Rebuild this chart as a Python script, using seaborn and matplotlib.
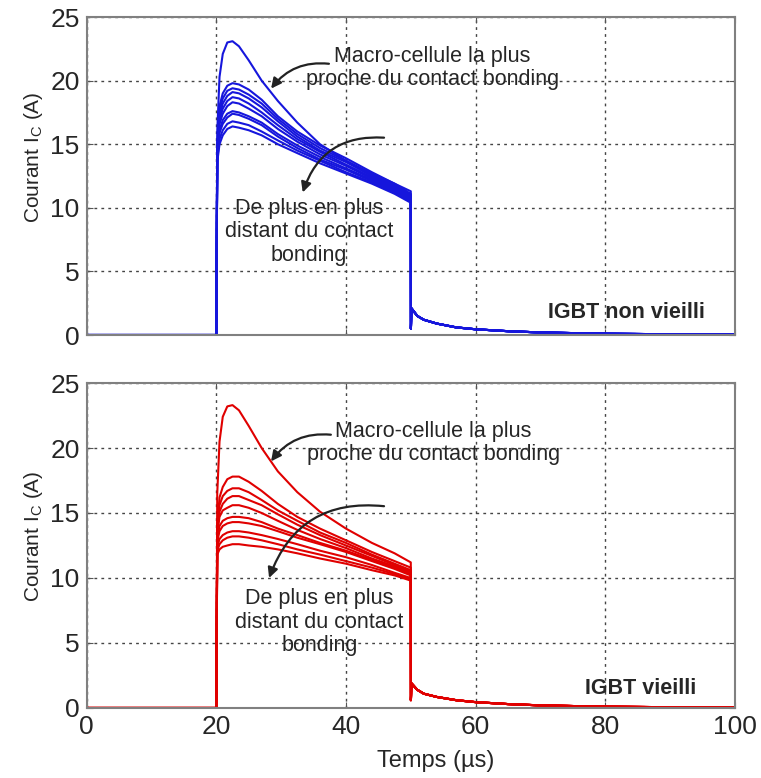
import numpy as np
import pandas as pd
import seaborn as sns
import matplotlib.pyplot as plt

# time samples (µs) of the pulse
t_pulse = [20.15, 20.5, 21.0, 21.7, 22.5, 23.5, 25, 27, 29.5, 32.5, 36, 40, 44, 47.5, 50.0]
# turn-off tail, shared by every macro-cell
t_tail = [50.02, 50.1, 51, 52, 54, 57, 60, 65, 70, 80, 90, 100]
tail_new = [0.5, 2.1, 1.5, 1.2, 0.9, 0.6, 0.45, 0.3, 0.2, 0.1, 0.06, 0.03]
tail_old = [0.6, 1.9, 1.4, 1.1, 0.85, 0.6, 0.45, 0.3, 0.2, 0.1, 0.06, 0.03]

# IGBT non vieilli (blue), first curve = cell closest to the bonding contact
new_cells = [
    [16.0, 20.3, 22.1, 23.0, 23.1, 22.7, 21.6, 20.0, 18.4, 16.7, 15.0, 13.7, 12.7, 11.9, 11.3],
    [14.8, 18.0, 19.0, 19.6, 19.8, 19.7, 19.3, 18.5, 17.2, 16.0, 14.9, 13.9, 12.8, 11.9, 11.1],
    [14.6, 17.6, 18.6, 19.2, 19.4, 19.3, 18.9, 18.2, 17.0, 15.8, 14.7, 13.7, 12.6, 11.8, 11.0],
    [14.5, 17.2, 18.2, 18.8, 19.1, 19.0, 18.6, 17.9, 16.8, 15.6, 14.5, 13.6, 12.5, 11.7, 10.9],
    [14.4, 16.9, 17.8, 18.4, 18.7, 18.6, 18.2, 17.5, 16.5, 15.4, 14.4, 13.4, 12.4, 11.6, 10.8],
    [14.3, 16.6, 17.4, 18.0, 18.3, 18.2, 17.8, 17.2, 16.2, 15.2, 14.2, 13.3, 12.3, 11.5, 10.8],
    [14.1, 16.1, 16.9, 17.4, 17.6, 17.5, 17.2, 16.7, 15.8, 14.9, 14.0, 13.1, 12.2, 11.4, 10.7],
    [14.0, 15.9, 16.6, 17.1, 17.4, 17.3, 17.0, 16.5, 15.6, 14.7, 13.8, 13.0, 12.1, 11.3, 10.6],
    [13.8, 15.4, 16.1, 16.6, 16.8, 16.7, 16.5, 16.0, 15.3, 14.5, 13.7, 12.8, 12.0, 11.2, 10.5],
    [13.6, 15.0, 15.7, 16.2, 16.4, 16.3, 16.1, 15.7, 15.0, 14.3, 13.5, 12.7, 11.9, 11.1, 10.4],
]

# IGBT vieilli (red)
old_cells = [
    [16.5, 20.5, 22.4, 23.2, 23.3, 22.9, 21.7, 20.0, 18.2, 16.6, 15.1, 13.8, 12.7, 11.9, 11.2],
    [14.0, 16.2, 17.0, 17.6, 17.8, 17.8, 17.4, 16.7, 15.7, 14.7, 13.8, 12.9, 12.0, 11.3, 10.8],
    [13.8, 15.6, 16.3, 16.7, 16.9, 16.9, 16.6, 16.0, 15.2, 14.4, 13.5, 12.7, 11.8, 11.1, 10.6],
    [13.6, 15.1, 15.7, 16.1, 16.3, 16.3, 16.0, 15.6, 14.9, 14.1, 13.3, 12.5, 11.7, 11.0, 10.5],
    [13.4, 14.7, 15.2, 15.4, 15.6, 15.6, 15.4, 15.0, 14.4, 13.7, 13.0, 12.3, 11.5, 10.9, 10.4],
    [13.0, 14.0, 14.4, 14.6, 14.7, 14.7, 14.6, 14.3, 13.8, 13.3, 12.7, 12.1, 11.4, 10.8, 10.3],
    [12.8, 13.6, 14.0, 14.2, 14.3, 14.3, 14.2, 14.0, 13.6, 13.1, 12.6, 12.0, 11.3, 10.7, 10.2],
    [12.4, 13.0, 13.3, 13.5, 13.6, 13.6, 13.5, 13.3, 13.0, 12.6, 12.1, 11.6, 11.0, 10.4, 10.0],
    [12.1, 12.6, 12.9, 13.1, 13.2, 13.2, 13.1, 12.9, 12.6, 12.2, 11.8, 11.3, 10.8, 10.3, 9.9],
    [11.8, 12.2, 12.4, 12.5, 12.6, 12.6, 12.5, 12.4, 12.2, 11.9, 11.5, 11.1, 10.6, 10.2, 9.8],
]


def build(cells, tail):
    rows = []
    for k, vals in enumerate(cells):
        tt = [0, 20.0] + t_pulse + t_tail
        yy = [0, 0] + vals + tail
        for t, y in zip(tt, yy):
            rows.append({"cell": k, "t": t, "I": y})
    return pd.DataFrame(rows)


sns.set_style("white")
plt.rcParams['font.family'] = ['Liberation Sans', 'DejaVu Sans']

fig = plt.figure(figsize=(7.61, 7.78), dpi=100)
ax1 = fig.add_axes([0.1138, 0.5694, 0.852, 0.4087])
ax2 = fig.add_axes([0.1138, 0.0900, 0.852, 0.4177])

panels = [
    (ax1, build(new_cells, tail_new), "#1616dc", "IGBT non vieilli",
     (53.3, 21.0), (37.8, 21.3), (28.2, 19.2), (34.3, 8.1), (46.3, 15.5), (33.2, 11.0), (83.2, 1.8), 0.56),
    (ax2, build(old_cells, tail_old), "#e00000", "IGBT vieilli",
     (53.5, 20.4), (38.1, 21.0), (28.2, 18.8), (35.9, 6.6), (46.3, 15.5), (28.0, 9.8), (85.4, 1.5), 0.53),
]

for ax, df, col, tag, m_txt, m_a, m_b, d_txt, d_a, d_b, tag_xy, ylab_y in panels:
    sns.lineplot(data=df, x="t", y="I", hue="cell", units="cell", estimator=None,
                 sort=False, palette=[col] * 10, legend=False, lw=1.5, ax=ax)
    ax.set_xlim(0, 100)
    ax.set_ylim(0, 25)
    ax.set_xticks([0, 20, 40, 60, 80, 100])
    ax.set_yticks([0, 5, 10, 15, 20, 25])
    ax.grid(True, ls=(0, (2, 3)), color="#444444", lw=1.0)
    ax.tick_params(direction="in", length=4, color="#555555", labelsize=19,
                   top=True, right=True, bottom=True, left=True, pad=5)
    for s in ax.spines.values():
        s.set_color("#808080")
        s.set_linewidth(1.5)
    ax.set_ylabel("Courant I$_\\mathregular{C}$ (A)", fontsize=15)
    ax.yaxis.set_label_coords(-0.064, ylab_y)
    ax.set_xlabel("")

    ax.text(m_txt[0], m_txt[1], "Macro-cellule la plus\nproche du contact bonding",
            ha="center", va="center", fontsize=15.5, linespacing=1.15)
    ax.annotate("", xy=m_b, xytext=m_a,
                arrowprops=dict(arrowstyle="-|>", color="#222222", lw=1.6,
                                connectionstyle="arc3,rad=0.3", mutation_scale=15))
    ax.text(d_txt[0], d_txt[1], "De plus en plus\ndistant du contact\nbonding",
            ha="center", va="center", fontsize=15.5, linespacing=1.15)
    ax.annotate("", xy=d_b, xytext=d_a,
                arrowprops=dict(arrowstyle="-|>", color="#222222", lw=1.6,
                                connectionstyle="arc3,rad=0.4", mutation_scale=15))
    ax.text(tag_xy[0], tag_xy[1], tag, ha="center", va="center",
            fontsize=15.5, fontweight="bold")

ax1.tick_params(labelbottom=False)
ax2.set_xlabel("Temps (µs)", fontsize=17)
ax2.xaxis.set_label_coords(0.539, -0.128)

fig.savefig("out.png", dpi=100)
